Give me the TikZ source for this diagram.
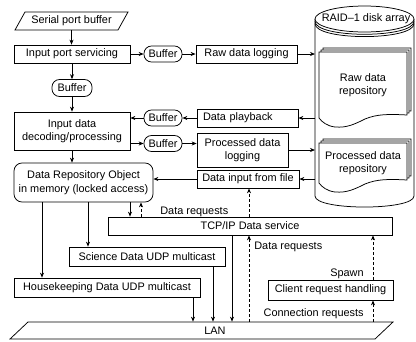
\documentclass[tikz,border=0pt]{standalone}
\usepackage{fontspec}
\setmainfont{Liberation Sans}
\usetikzlibrary{arrows.meta}
\begin{document}
\begin{tikzpicture}[x=1pt,y=-1pt, line width=0.75pt,
  font=\fontsize{10.9}{13.5}\selectfont,
  box/.style={draw, inner sep=0pt, align=center},
  bufbox/.style={draw, inner sep=0pt, rounded corners=7.5pt, minimum width=38pt, minimum height=16pt},
  plain/.style={inner sep=0pt, align=center},
  lbl/.style={inner sep=0pt},
  arr/.style={-{Stealth[length=5pt,width=4pt]}},
  darr/.style={arr, dash pattern=on 3pt off 2pt},
  docshape/.style={insert path={(0,0) -- (88,0) -- (88,#1-3) .. controls (70,#1-4) and (58,#1-4) .. (46,#1+1) .. controls (36,#1+6) and (28,#1+10) .. (16,#1+9) .. controls (8,#1+8) and (3,#1+4) .. (0,#1) -- cycle}}]
\useasboundingbox (0,0) rectangle (416,341);

% ---------- disk array cylinder ----------
\draw (315,19) -- (315,196) .. controls (315,210.7) and (414,210.7) .. (414,196) -- (414,19);
\draw[fill=white] (364.5,19) ellipse [x radius=49.5, y radius=13];
\draw (315,21.3) .. controls (315,38.6) and (414,38.6) .. (414,21.3);
\draw (315,23.6) .. controls (315,40.9) and (414,40.9) .. (414,23.6);
\node[plain] (raid) at (366,19) {RAID\textendash 1 disk array};
\coordinate (cylL) at (315,0);

% document stacks
\foreach \d in {4,2,0} \draw[fill=white, shift={(319+\d,52-\d)}, docshape=66];
\foreach \d in {4,2,0} \draw[fill=white, shift={(319+\d,143-\d)}, docshape=40];
\node[plain] (rawrep) at (363,85) {Raw data\\repository};
\node[plain] (procrep) at (363,163) {Processed data\\repository};

% ---------- nodes ----------
\node[plain, minimum width=100pt, minimum height=18pt] (spb) at (71.5,21) {Serial port buffer};
\draw (15,30) -- (25,12) -- (128,12) -- (118,30) -- cycle;

\node[box, minimum width=116pt, minimum height=18pt] (ips) at (72,54) {Input port servicing};
\node[bufbox] (b1) at (163,54) {Buffer};
\node[box, minimum width=101pt, minimum height=18pt] (rdl) at (246.5,54) {Raw data logging};
\node[bufbox, minimum width=40pt, minimum height=17pt] (b2) at (72,88) {Buffer};
\node[box, minimum width=116pt, minimum height=38pt] (idp) at (72,131) {Input data\\decoding/processing};
\node[bufbox] (b3) at (163,118) {Buffer};
\node[bufbox] (b4) at (163,143.5) {Buffer};
\node[box, minimum height=18pt, text width=89pt, inner xsep=6pt, align=left] (dp) at (247.5,118) {Data playback};
\node[box, minimum width=91pt, minimum height=34pt] (pdl) at (242.5,150) {Processed data\\logging};
\node[box, minimum width=102pt, minimum height=18pt] (dif) at (248,179) {Data input from file};
\node[box, rounded corners=8pt, minimum width=139pt, minimum height=39pt] (dro) at (83.5,182.5) {Data Repository Object\\in memory (locked access)};
\node[box, minimum width=284pt, minimum height=18pt] (tcp) at (250,226) {TCP/IP Data service};
\node[box, minimum width=156pt, minimum height=19pt] (sci) at (147,256.5) {Science Data UDP multicast};
\node[box, minimum width=186pt, minimum height=19pt] (hk) at (107,287.5) {Housekeeping Data UDP multicast};
\node[box, minimum width=125pt, minimum height=20pt] (crh) at (330.5,290) {Client request handling};
\node[plain, minimum height=17pt] (lan) at (215,330.5) {LAN};
\draw (10,339) -- (28,322) -- (393,322) -- (375,339) -- cycle;

% labels
\node[lbl, anchor=base west] (lreq1) at (160,214) {Data requests};
\node[lbl, anchor=base west] (lreq2) at (254,249) {Data requests};
\node[lbl, anchor=base east] (lspawn) at (364,276) {Spawn};
\node[lbl, anchor=base east] (lconn) at (364,316) {Connection requests};

% x positions of vertical connectors
\coordinate (xHK) at (42,0);
\coordinate (xSci) at (88,0);
\coordinate (xDown) at (130,0);
\coordinate (xUp) at (141,0);
\coordinate (xReq) at (249,0);
\coordinate (xHkL) at (193,0);
\coordinate (xSciL) at (213,0);
\coordinate (xTcpL) at (232,0);
\coordinate (xCrh) at (373,0);

% ---------- connectors ----------
\draw[arr] (spb.south) -- (spb.south |- ips.north);
\draw[arr] (ips) -- (b1);
\draw[arr] (b1) -- (rdl);
\draw[arr] (rdl.east) -- (rdl.east -| cylL);
\draw[arr] (ips) -- (b2);
\draw[arr] (b2) -- (idp);
\draw[arr] (dp.east -| cylL) -- (dp.east);
\draw[arr] (dp) -- (b3);
\draw[arr] (b3) -- (b3 -| idp.east);
\draw[arr] (b4 -| idp.east) -- (b4);
\draw[arr] (b4) -- (b4 -| pdl.west);
\draw[arr] (pdl.east) -- (pdl.east -| cylL);
\draw[arr] (dif.east -| cylL) -- (dif.east);
\draw[arr] (dif.west) -- (dif.west -| dro.east);
\draw[arr] (idp.south) -- (idp.south |- dro.north);
\draw[arr] (xHK |- dro.south) -- (xHK |- hk.north);
\draw[arr] (xSci |- dro.south) -- (xSci |- sci.north);
\draw[arr] (xDown |- dro.south) -- (xDown |- tcp.north);
\draw[darr] (xUp |- tcp.north) -- (xUp |- dro.south);
\draw[darr] (xReq |- tcp.north) -- (xReq |- dif.south);
\draw[arr] (xHkL |- hk.south) -- (xHkL |- lan.north);
\draw[arr] (xSciL |- sci.south) -- (xSciL |- lan.north);
\draw[arr] (xTcpL |- tcp.south) -- (xTcpL |- lan.north);
\draw[darr] (xReq |- lan.north) -- (xReq |- tcp.south);
\draw[darr] (xCrh |- lan.north) -- (xCrh |- crh.south);
\draw[darr] (xCrh |- crh.north) -- (xCrh |- tcp.south);
\end{tikzpicture}
\end{document}
